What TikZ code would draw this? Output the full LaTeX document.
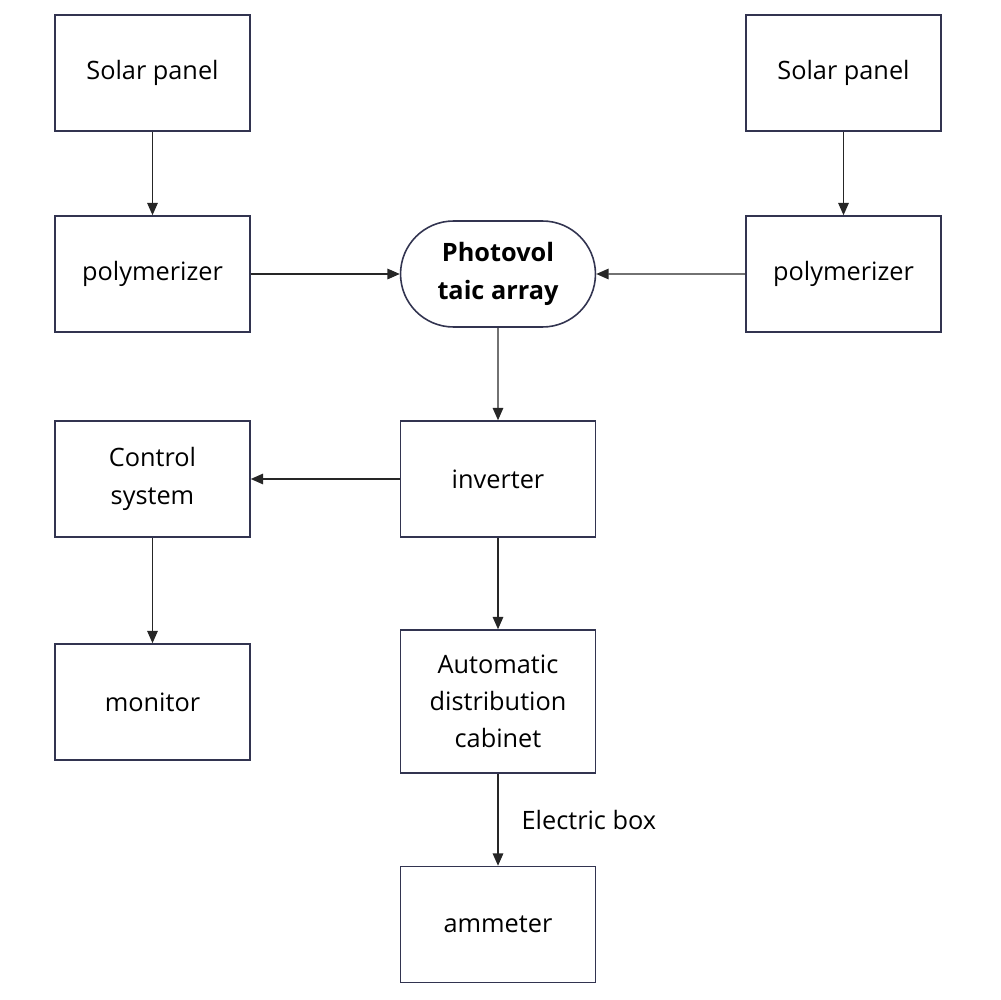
\documentclass[tikz,border=0pt]{standalone}
\usepackage{fontspec}
\setmainfont{Open Sans}
\usetikzlibrary{arrows.meta,shapes.misc}
\definecolor{edge}{RGB}{50,52,80}
\begin{document}
\begin{tikzpicture}[x=0.02cm,y=-0.02cm,
  box/.style={draw=edge,line width=0.9pt,minimum width=3.9cm,minimum height=2.32cm,align=center,font=\fontsize{14.4}{21.2}\selectfont},
  pill/.style={draw=edge,line width=0.9pt,rounded rectangle,minimum width=4.04cm,minimum height=2.12cm,inner xsep=2pt,align=center,font=\bfseries\fontsize{14.4}{21.2}\selectfont},
  link/.style={draw=black!85,line width=0.7pt,-{Triangle[length=7pt,width=6pt]}}]
\useasboundingbox (0,0) rectangle (1000,1000);
\node[box] (solarL) at (152.5,73) {Solar panel};
\node[box] (solarR) at (843.5,73) {Solar panel};
\node[box] (polyL) at (152.5,274) {polymerizer};
\node[box] (polyR) at (843.5,274) {polymerizer};
\node[pill] (pv) at (498,274) {Photovol\\taic array};
\node[box] (inv) at (498,479) {inverter};
\node[box] (ctrl) at (152.5,479) {Control\\system};
\node[box] (mon) at (152.5,702) {monitor};
\node[box,minimum height=2.86cm] (cab) at (498,701.5) {Automatic\\distribution\\cabinet};
\node[box] (amm) at (498,924.5) {ammeter};
\draw[link] (solarL) -- (polyL);
\draw[link] (solarR) -- (polyR);
\draw[link] (polyL) -- (pv);
\draw[link] (polyR) -- (pv);
\draw[link] (pv) -- (inv);
\draw[link] (inv) -- (ctrl);
\draw[link] (ctrl) -- (mon);
\draw[link] (inv) -- (cab);
\draw[link] (cab) -- node[anchor=west,inner sep=0pt,xshift=0.46cm,font=\fontsize{14.4}{17}\selectfont] (ebox) {Electric box} (amm);
\end{tikzpicture}
\end{document}
